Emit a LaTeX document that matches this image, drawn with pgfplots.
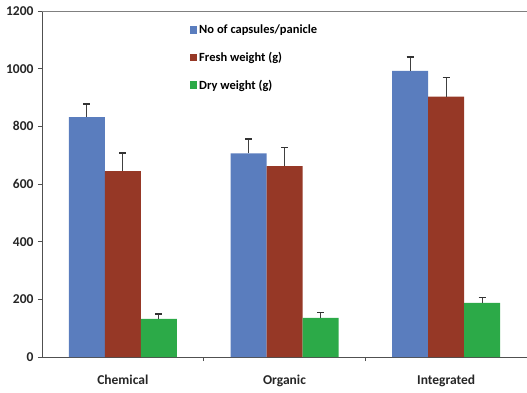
\documentclass[border=0pt]{standalone}
\usepackage{pgfplots}
\pgfplotsset{compat=1.18}
\usepackage{fontspec}
\setmainfont{Carlito}
\definecolor{cblue}{RGB}{90,125,190}
\definecolor{cred}{RGB}{150,56,38}
\definecolor{cgreen}{RGB}{44,170,72}
\definecolor{axgray}{RGB}{80,80,80}
\begin{document}
\begin{tikzpicture}
\useasboundingbox (-42bp,-36bp) rectangle (485bp,357bp);
\begin{axis}[
  anchor=south west, at={(0,0)},
  scale only axis, width=485bp, height=346bp,
  xmin=-0.5, xmax=2.5, ymin=0, ymax=1200,
  ybar=0pt, bar width=36bp,
  axis lines=left, axis line style={-, draw=axgray, line width=0.9pt},
  xtick={0,1,2}, xticklabels={Chemical,Organic,Integrated},
  minor xtick={0.5,1.5},
  ytick={0,200,...,1200},
  tick align=outside, major tick length=4bp, minor tick length=4bp,
  major x tick style={draw=none},
  tick style={axgray, line width=0.9pt},
  minor tick style={axgray, line width=0.9pt},
  ticklabel style={font=\fontsize{13.5bp}{15bp}\selectfont\bfseries, text=black!85},
  /pgf/number format/assume math mode=true,
  /pgf/number format/1000 sep={},
  xticklabel style={yshift=-11bp},
  yticklabel style={xshift=-1bp},
  legend style={at={(0.298,0.972)}, anchor=north west, draw=none, fill=none,
    font=\fontsize{12.5bp}{14bp}\selectfont\bfseries, row sep=13bp,
    /tikz/every even column/.append style={column sep=1bp}},
  legend cell align=left,
  legend image code/.code={\fill[#1] (0bp,-3.8bp) rectangle (7.5bp,3.8bp);},
  error bars/y dir=plus, error bars/y explicit,
  error bars/error mark options={rotate=90, mark size=3.5bp, line width=1.6pt, draw=black!80},
  error bars/error bar style={line width=1.2pt, draw=black!75},
  clip=false,
]
\addplot[fill=cblue, draw=none] coordinates {(0,832) +- (0,45) (1,706) +- (0,50) (2,992) +- (0,49)};
\addlegendentry{No of capsules/panicle}
\addplot[fill=cred, draw=none] coordinates {(0,645) +- (0,63) (1,662) +- (0,65) (2,903) +- (0,66)};
\addlegendentry{Fresh weight (g)}
\addplot[fill=cgreen, draw=none] coordinates {(0,132) +- (0,17) (1,136) +- (0,18) (2,188) +- (0,18)};
\addlegendentry{Dry weight (g)}
\draw[gray, line width=0.9pt] (rel axis cs:0,1) -- (rel axis cs:1,1);
\end{axis}
\end{tikzpicture}
\end{document}
